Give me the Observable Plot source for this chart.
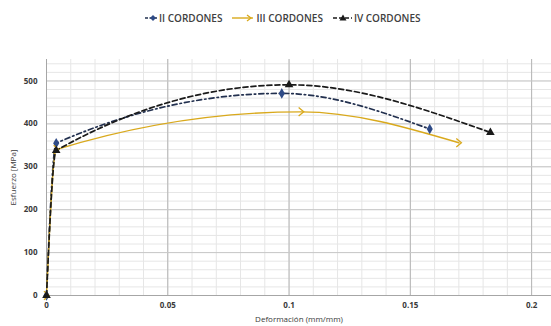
<!DOCTYPE html>
<html>
<head>
<meta charset="utf-8">
<script src="https://cdn.jsdelivr.net/npm/d3@7"></script>
<script src="https://cdn.jsdelivr.net/npm/@observablehq/plot@0.6"></script>
<style>
  html, body { margin: 0; padding: 0; background: #fff; }
  body { width: 551px; height: 326px; overflow: hidden; font-family: "Open Sans", sans-serif; }
  #legend { height: 36px; display: flex; justify-content: flex-start; align-items: center; gap: 10px; font-size: 10px; font-weight: 600; color: #404040; padding-left: 145px; box-sizing: border-box; }
  #legend .item { display: flex; align-items: center; gap: 2px; }
  #chart svg g[aria-label="y-axis tick label"] text, #chart svg g[aria-label="x-axis tick label"] text { font-weight: bold; }
</style>
</head>
<body>
<div id="legend"></div>
<div id="chart"></div>
<script>
const seriesNames = ["II CORDONES", "III CORDONES", "IV CORDONES"];
const colors = ["#22304f", "#d9a91c", "#1a1a1a"];
const markerColors = ["#2e4a86", "#d9a91c", "#1a1a1a"];
const dashes = ["5,3,1.5,3", null, "5,3"];

// Deformación (mm/mm) and Esfuerzo [MPa] per series
const strainII  = [0, 0.004, 0.097, 0.158];
const stressII  = [0, 355, 471, 388];
const strainIII = [0, 0.004, 0.105, 0.170];
const stressIII = [0, 340, 428, 356];
const strainIV  = [0, 0.004, 0.100, 0.183];
const stressIV  = [0, 338, 491, 380];

const xTicks = [0, 0.05, 0.1, 0.15, 0.2];
const xTickLabels = ["0", "0.05", "0.1", "0.15", "0.2"];
const yTicks = [0, 100, 200, 300, 400, 500];

const strains = [strainII, strainIII, strainIV];
const stresses = [stressII, stressIII, stressIV];
const data = seriesNames.flatMap((s, i) => strains[i].map((x, j) => ({series: s, x, y: stresses[i][j]})));

const chevron = {
  draw(ctx, size) {
    const r = Math.sqrt(size) * 0.6;
    ctx.moveTo(-r * 0.6, -r);
    ctx.lineTo(r * 0.6, 0);
    ctx.lineTo(-r * 0.6, r);
  }
};

const xMinor = d3.range(0, 0.2101, 0.01);
const yMinor = d3.range(0, 551, 20);
const xMajor = [0.05, 0.1, 0.15, 0.2];
const yMajor = [100, 200, 300, 400, 500];

const marks = [
  Plot.ruleX(xMinor, {stroke: "#e6e6e6", strokeWidth: 1}),
  Plot.ruleY(yMinor, {stroke: "#e6e6e6", strokeWidth: 1}),
  Plot.ruleX(xMajor, {stroke: "#b5b5b5", strokeWidth: 1}),
  Plot.ruleY(yMajor, {stroke: "#c8c8c8", strokeWidth: 1}),
  Plot.ruleX([0], {stroke: "#a6a6a6"}),
  Plot.ruleY([0], {stroke: "#a6a6a6"}),
  Plot.axisX({ticks: xTicks, tickFormat: d => xTickLabels[xTicks.indexOf(d)], tickSize: 0, tickPadding: 7,
    fontSize: 8, fill: "#3a3a3a", label: "Deformación (mm/mm)", labelAnchor: "center", labelArrow: "none", labelOffset: 26}),
  Plot.axisY({ticks: yTicks, tickSize: 0, tickPadding: 9, fontSize: 8, fill: "#3a3a3a",
    label: "Esfuerzo [MPa]", labelAnchor: "center", labelArrow: "none", labelOffset: 36})
];

seriesNames.forEach((s, i) => {
  const pts = data.filter(d => d.series === s);
  marks.push(Plot.line(pts, {x: "x", y: "y", curve: "monotone-x", stroke: colors[i],
    strokeWidth: i === 1 ? 1.4 : 1.7, strokeDasharray: dashes[i]}));
});
marks.push(Plot.dot(data.filter(d => d.series === seriesNames[0]), {x: "x", y: "y", symbol: "diamond", r: 3.2, fill: markerColors[0]}));
marks.push(Plot.dot(data.filter(d => d.series === seriesNames[1]), {x: "x", y: "y", symbol: chevron, r: 4, fill: "none", stroke: markerColors[1], strokeWidth: 1.3}));
marks.push(Plot.dot(data.filter(d => d.series === seriesNames[2]), {x: "x", y: "y", symbol: "triangle", r: 3.2, fill: markerColors[2]}));

const chart = Plot.plot({
  width: 551,
  height: 290,
  marginLeft: 46,
  marginRight: 0,
  marginTop: 23,
  marginBottom: 31,
  style: {fontFamily: "Open Sans, sans-serif", fontSize: "8px", color: "#3a3a3a", background: "#fff"},
  x: {domain: [0, 0.2082]},
  y: {domain: [0, 550]},
  marks
});
document.getElementById("chart").appendChild(chart);

// Legend
const legend = document.getElementById("legend");
const legendSym = [
  `<svg width="12" height="8"><line x1="0" y1="4" x2="12" y2="4" stroke="${colors[0]}" stroke-width="1.6" stroke-dasharray="3,1.5"/><path d="M8,1 L11,4 L8,7 L5,4Z" fill="${markerColors[0]}"/></svg>`,
  `<svg width="22" height="8"><line x1="0" y1="4" x2="21" y2="4" stroke="${colors[1]}" stroke-width="1.4"/><path d="M15,1 L19,4 L15,7" fill="none" stroke="${colors[1]}" stroke-width="1.3"/></svg>`,
  `<svg width="19" height="8"><line x1="0" y1="4" x2="19" y2="4" stroke="${colors[2]}" stroke-width="1.6" stroke-dasharray="4,2"/><path d="M10,0.5 L13.5,6.5 L6.5,6.5Z" fill="${colors[2]}"/></svg>`
];
seriesNames.forEach((s, i) => {
  const el = document.createElement("div");
  el.className = "item";
  el.innerHTML = legendSym[i] + `<span>${s}</span>`;
  legend.appendChild(el);
});
</script>
</body>
</html>
